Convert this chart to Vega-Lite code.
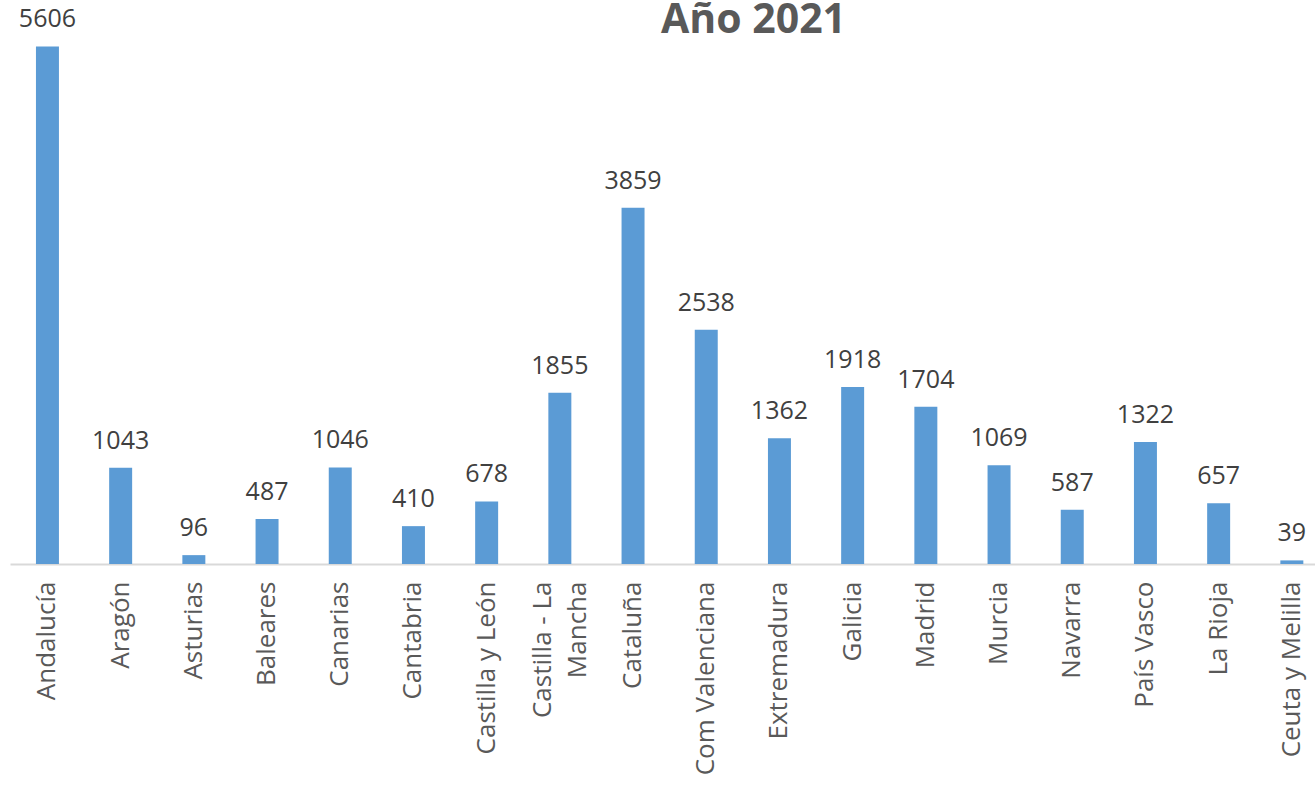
{
  "$schema": "https://vega.github.io/schema/vega-lite/v6.json",
  "width": 1305,
  "height": 554,
  "autosize": "none",
  "padding": {"left": 10, "top": 10, "right": 0, "bottom": 221},
  "background": "white",
  "config": {"view": {"stroke": null}, "font": "Open Sans"},
  "title": {
    "text": "Año 2021",
    "fontSize": 41,
    "fontWeight": "bold",
    "color": "#595959",
    "anchor": "middle",
    "dx": 91,
    "baseline": "alphabetic",
    "offset": -67
  },
  "data": {
    "values": [
      {"region": "Andalucía", "valor": 5606},
      {"region": "Aragón", "valor": 1043},
      {"region": "Asturias", "valor": 96},
      {"region": "Baleares", "valor": 487},
      {"region": "Canarias", "valor": 1046},
      {"region": "Cantabria", "valor": 410},
      {"region": "Castilla y León", "valor": 678},
      {"region": "Castilla - La Mancha", "valor": 1855},
      {"region": "Cataluña", "valor": 3859},
      {"region": "Com Valenciana", "valor": 2538},
      {"region": "Extremadura", "valor": 1362},
      {"region": "Galicia", "valor": 1918},
      {"region": "Madrid", "valor": 1704},
      {"region": "Murcia", "valor": 1069},
      {"region": "Navarra", "valor": 587},
      {"region": "País Vasco", "valor": 1322},
      {"region": "La Rioja", "valor": 657},
      {"region": "Ceuta y Melilla", "valor": 39}
    ]
  },
  "encoding": {
    "x": {
      "field": "region",
      "type": "nominal",
      "sort": null,
      "scale": {"paddingInner": 0.686, "paddingOuter": 0.257, "align": 0.69},
      "axis": {
        "title": null,
        "ticks": false,
        "domainColor": "#D9D9D9",
        "domainWidth": 2,
        "labelAngle": -90,
        "labelAlign": "right",
        "labelBaseline": "middle",
        "labelPadding": 17,
        "labelFontSize": 26,
        "labelColor": "#595959",
        "labelLimit": 400,
        "labelLineHeight": 35,
        "labelOffset": {"condition": {"test": "datum.value == 'Castilla - La Mancha'", "value": -17}, "value": 0},
        "labelExpr": "datum.value == 'Castilla - La Mancha' ? ['Castilla - La', 'Mancha'] : datum.value"
      }
    },
    "y": {
      "field": "valor",
      "type": "quantitative",
      "scale": {"domain": [0, 6000]},
      "axis": null
    }
  },
  "layer": [
    {"mark": {"type": "bar", "color": "#5B9BD5"}},
    {
      "mark": {"type": "text", "baseline": "alphabetic", "dy": -19, "fontSize": 25, "color": "#404040"},
      "encoding": {"text": {"field": "valor", "type": "quantitative"}}
    }
  ]
}
